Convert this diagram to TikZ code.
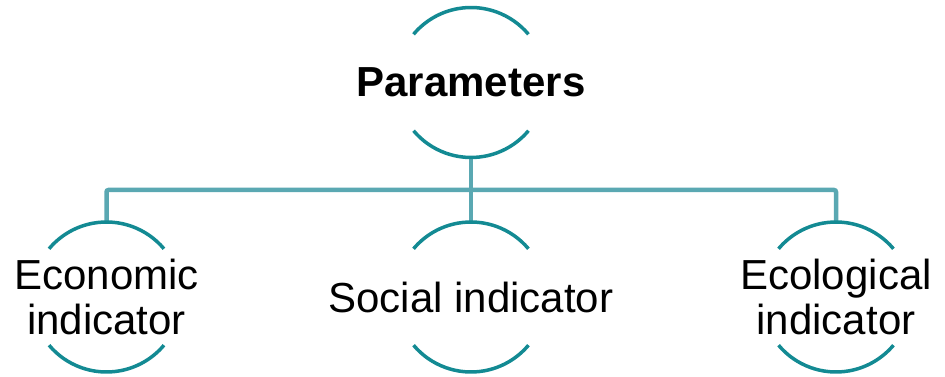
\documentclass[tikz,border=0pt]{standalone}
\usepackage{fontspec}
\setmainfont{Liberation Sans}
\definecolor{arcteal}{HTML}{138A93}
\definecolor{connteal}{HTML}{5AA8B2}
\begin{document}
\begin{tikzpicture}[x=1pt,y=1pt,
  ring/.style={circle,draw=none,minimum size=150pt,inner sep=0pt,outer sep=0pt},
  lbl/.style={align=center,font=\fontsize{42}{45}\selectfont,inner sep=0pt},
  arcline/.style={draw=arcteal,line width=3.5pt},
  conn/.style={draw=connteal,line width=4.5pt,rounded corners=2pt}]
\useasboundingbox (0,0) rectangle (945,377);
% rings
\node[ring] (p) at (471,294.5) {};
\node[ring] (e) at (106.5,80) {};
\node[ring] (s) at (471,80) {};
\node[ring] (c) at (836,80) {};
\coordinate (bar) at (471,187);
% connectors
\draw[conn] (p.south) -- (s.north);
\draw[conn] (e.north) |- (bar) -| (c.north);
% arcs
\foreach \n in {p,e,s,c}{
  \draw[arcline] (\n.40) arc[start angle=40,end angle=140,radius=75pt];
  \draw[arcline] (\n.220) arc[start angle=220,end angle=320,radius=75pt];
}
% labels
\node[lbl,font=\fontsize{42}{45}\selectfont\bfseries] (pt) at (p) {Parameters};
\node[lbl] (et) at (e) {Economic\\indicator};
\node[lbl] (st) at (s) {Social indicator};
\node[lbl] (ct) at (c) {Ecological\\indicator};
\end{tikzpicture}
\end{document}
